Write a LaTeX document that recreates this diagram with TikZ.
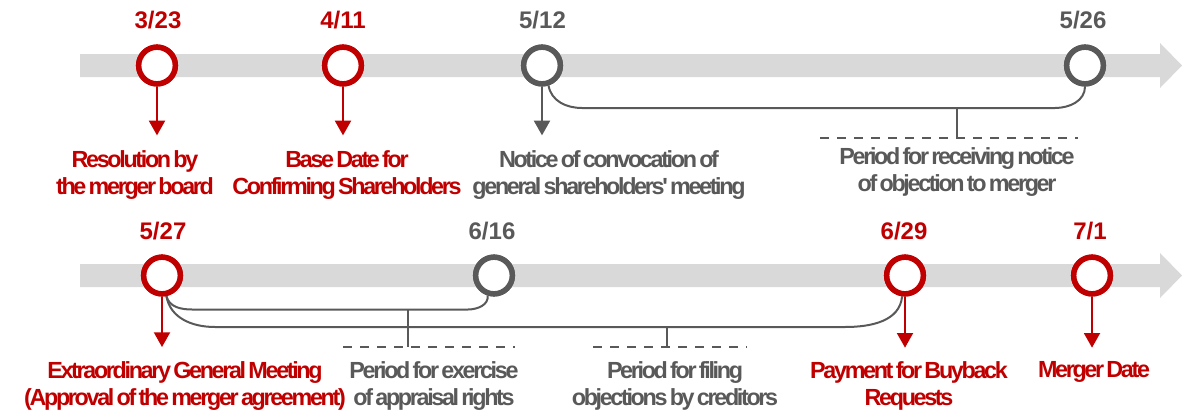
\documentclass[tikz,border=0pt]{standalone}
\usepackage{fontspec}
\setmainfont{Liberation Sans}
\newfontfamily\tightsans[LetterSpace=-10,WordSpace=0.55]{Liberation Sans}
\usetikzlibrary{arrows.meta}
\definecolor{accent}{HTML}{C00000}
\definecolor{ink}{HTML}{595959}
\definecolor{band}{HTML}{D9D9D9}

\begin{document}
\begin{tikzpicture}[x=0.75pt,y=-0.75pt,
  ring/.style={circle,draw=#1,fill=white,line width=4.1pt,minimum size=27.5pt,inner sep=0pt},
  datetxt/.style={text=#1,font=\bfseries\fontsize{18}{20}\selectfont,inner sep=0pt},
  evt/.style={text=#1,font=\tightsans\bfseries\fontsize{17.5}{20.5}\selectfont,align=center,inner sep=0pt,anchor=north},
  drop/.style={draw=#1,line width=1.5pt,-{Triangle[width=12pt,length=11pt]}},
  span/.style={draw=ink,line width=1.5pt},
  guide/.style={draw=ink,line width=2.2pt,dash pattern=on 6.75pt off 6pt},
]
\useasboundingbox (0,0) rectangle (1194,414);

% timeline bands
\fill[band] (80,54) -- (1160,54) -- (1160,43) -- (1182,65.5) -- (1160,88) -- (1160,77) -- (80,77) -- cycle;
\fill[band] (80,264) -- (1160,264) -- (1160,253) -- (1182,275.5) -- (1160,298) -- (1160,287) -- (80,287) -- cycle;

% milestones, first row
\node[ring=accent] (c323) at (157,65.5) {};
\node[ring=accent] (c411) at (343,65.5) {};
\node[ring=ink]    (c512) at (542,65.5) {};
\node[ring=ink]    (c526) at (1085,65.5) {};
% milestones, second row
\node[ring=accent] (c527) at (162,275.5) {};
\node[ring=ink]    (c616) at (494,275.5) {};
\node[ring=accent] (c629) at (905,275.5) {};
\node[ring=accent] (c701) at (1092,275.5) {};

% dates
\node[datetxt=accent] (d323) at (158,20) {3/23};
\node[datetxt=accent] (d411) at (343,20) {4/11};
\node[datetxt=ink]    (d512) at (542.5,20) {5/12};
\node[datetxt=ink]    (d526) at (1083,20) {5/26};
\node[datetxt=accent] (d527) at (163,231) {5/27};
\node[datetxt=ink]    (d616) at (492,231) {6/16};
\node[datetxt=accent] (d629) at (904,231) {6/29};
\node[datetxt=accent] (d701) at (1090,231) {7/1};

% event texts
\node[evt=accent] (l323) at (135,150) {Resolution by\\the merger board};
\node[evt=accent] (l411) at (347,150) {Base Date for\\Confirming Shareholders};
\node[evt=ink]    (l512) at (609,150) {Notice of convocation of\\general shareholders' meeting};
\node[evt=ink]    (lobj) at (957,147) {Period for receiving notice\\of objection to merger};
\node[evt=accent] (l527) at (185,361) {Extraordinary General Meeting\\(Approval of the merger agreement)};
\node[evt=ink]    (lapp) at (434,361) {Period for exercise\\of appraisal rights};
\node[evt=ink]    (lfil) at (675,361) {Period for filing\\objections by creditors};
\node[evt=accent] (l629) at (909,361) {Payment for Buyback\\Requests};
\node[evt=accent] (l701) at (1094,361) {Merger Date};

% pointers from milestones to their texts
\draw[drop=accent,shorten >=11pt] (c323) -- (c323 |- l323.north);
\draw[drop=accent,shorten >=11pt] (c411) -- (c411 |- l411.north);
\draw[drop=ink,shorten >=11pt]    (c512) -- (c512 |- l512.north);
\draw[drop=accent,shorten >=10.5pt] (c527) -- (c527 |- l527.north);
\draw[drop=accent,shorten >=10pt] (c629) -- (c629 |- l629.north);
\draw[drop=accent,shorten >=10pt] (c701) -- (c701 |- l701.north);

% period: receiving notice of objection
\coordinate (o1) at (582,108);
\coordinate (o2) at (1055,108);
\coordinate (ot) at (957,108);
\coordinate (ob) at (957,138);
\coordinate (os) at (820,138);
\coordinate (oe) at (1078,138);
\draw[span] (c512.-72) to[out=-80,in=180] (o1) -- (o2) to[out=0,in=-90] (c526.south);
\draw[span] (ot) -- (ob);
\draw[guide] (os) -- (oe);

% period: exercise of appraisal rights
\coordinate (a1) at (192,309.5);
\coordinate (a2) at (468,309.5);
\coordinate (at) at (408,309.5);
\coordinate (ab) at (408,347);
\coordinate (as) at (343,347);
\coordinate (ae) at (515,347);
\draw[span] (c527.-78) to[out=-75,in=180] (a1) -- (a2) to[out=0,in=-80] (c616.-108);
\draw[span] (at) -- (ab);
\draw[guide] (as) -- (ae);

% period: filing objections by creditors
\coordinate (f1) at (215,327);
\coordinate (f2) at (845,327);
\coordinate (ft) at (667,327);
\coordinate (fb) at (667,347);
\coordinate (fs) at (593,347);
\coordinate (fe) at (747,347);
\draw[span] (c527.-78) to[out=-80,in=180] (f1) -- (f2) to[out=0,in=-95] (c629.-98);
\draw[span] (ft) -- (fb);
\draw[guide] (fs) -- (fe);

% redraw rings on top of the period lines
\foreach \n/\c in {c323/accent,c411/accent,c512/ink,c526/ink,c527/accent,c616/ink,c629/accent,c701/accent}
  \draw[\c,line width=4.1pt,fill=white] (\n.center) circle (13.75pt);
\end{tikzpicture}
\end{document}
